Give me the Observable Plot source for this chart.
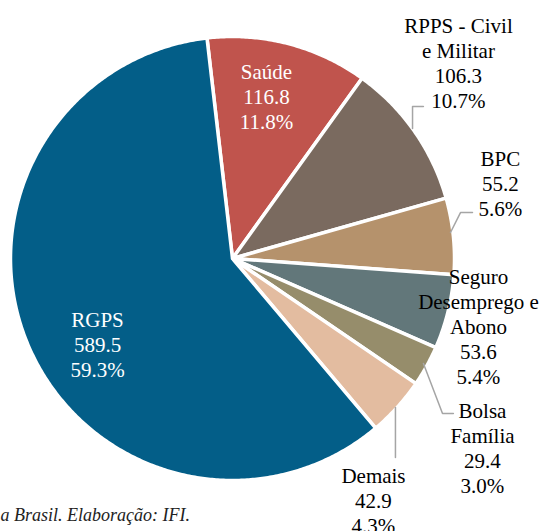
<!DOCTYPE html>
<html><head><meta charset="utf-8">
<script src="https://cdn.jsdelivr.net/npm/d3@7"></script>
<script src="https://cdn.jsdelivr.net/npm/@observablehq/plot@0.6"></script>
<style>html,body{margin:0;padding:0;background:#fff;overflow:hidden}</style>
</head><body><div id="chart"></div>
<script>
// ---- data ----
const categories = ["Saúde", "RPPS - Civil e Militar", "BPC", "Seguro Desemprego e Abono", "Bolsa Família", "Demais", "RGPS"];
const labelLines = ["Saúde", "RPPS - Civil\ne Militar", "BPC", "Seguro\nDesemprego e\nAbono", "Bolsa\nFamília", "Demais", "RGPS"];
const values = [116.8, 106.3, 55.2, 53.6, 29.4, 42.9, 589.5];
const shares = [11.8, 10.7, 5.6, 5.4, 3.0, 4.3, 59.3];
const caption = "a Brasil. Elaboração: IFI.";

// ---- styling / layout ----
const colors = ["#c0544d", "#7a6a5f", "#b5926c", "#62777a", "#968d6b", "#e3bca0", "#035e88"];
const FONT = "'Liberation Serif', 'DejaVu Serif', serif";
const startDeg = -6.6;
const labelPos = [[0.153, 0.734], [1.018, 0.883], [1.207, 0.338], [1.108, -0.302], [1.126, -0.851], [0.635, -1.09], [-0.608, -0.383]];
const labelInside = [true, false, false, false, false, false, true];
const leaders = [
  [[0.811, 0.586], [0.811, 0.685], [0.860, 0.685]],
  [[0.982, 0.117], [1.027, 0.207], [1.081, 0.207]],
  [[0.860, -0.473], [0.946, -0.698], [0.995, -0.698]],
  [[0.734, -0.671], [0.734, -0.896]]
];

const start = startDeg * Math.PI / 180;
const arcs = d3.pie().sort(null).startAngle(start).endAngle(start + 2 * Math.PI)(values);
const slicePts = [];
arcs.forEach((a, i) => {
  const name = categories[i];
  slicePts.push({name, x: 0, y: 0});
  const n = Math.max(2, Math.ceil((a.endAngle - a.startAngle) / (Math.PI / 360)));
  for (let k = 0; k <= n; k++) {
    const t = a.startAngle + (a.endAngle - a.startAngle) * k / n;
    slicePts.push({name, x: Math.sin(t), y: Math.cos(t)});
  }
  slicePts.push({name, x: 0, y: 0});
});
const labels = categories.map((c, i) => ({
  text: `${labelLines[i]}\n${values[i].toFixed(1)}\n${shares[i].toFixed(1)}%`,
  x: labelPos[i][0], y: labelPos[i][1], inside: labelInside[i]
}));
const leaderPts = leaders.flatMap((l, j) => l.map(([x, y]) => ({id: j, x, y})));

const plot = Plot.plot({
  width: 545, height: 531,
  marginLeft: 10, marginRight: 91, marginTop: 36, marginBottom: 51,
  x: {domain: [-1, 1], axis: null},
  y: {domain: [-1, 1], axis: null},
  color: {domain: categories, range: colors},
  style: {fontFamily: FONT, fontSize: "21px", background: "#fff"},
  marks: [
    Plot.line(slicePts, {x: "x", y: "y", z: "name", fill: "name", stroke: "white", strokeWidth: 3.5, strokeLinejoin: "round"}),
    Plot.line(leaderPts, {x: "x", y: "y", z: "id", stroke: "#a5a5a5", strokeWidth: 1.5}),
    Plot.text(labels.filter(d => d.inside), {x: "x", y: "y", text: "text", fill: "white", fontFamily: FONT, fontSize: 21, lineHeight: 1.19, textAnchor: "middle"}),
    Plot.text(labels.filter(d => !d.inside), {x: "x", y: "y", text: "text", fill: "black", fontFamily: FONT, fontSize: 21, lineHeight: 1.19, textAnchor: "middle"}),
    Plot.text([caption], {text: d => d, frameAnchor: "bottom-left", textAnchor: "start", dx: -10, dy: 40, fontFamily: FONT, fontSize: 18, fontStyle: "italic", fill: "#222"})
  ]
});
document.getElementById("chart").appendChild(plot);
</script>
</body></html>
